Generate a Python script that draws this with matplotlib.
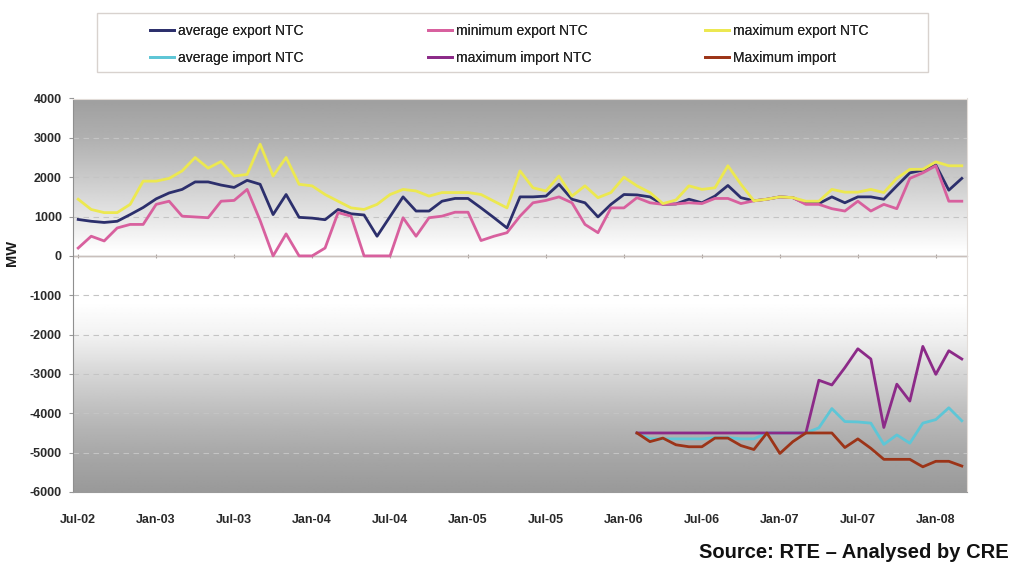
import numpy as np
import pandas as pd
import matplotlib
matplotlib.use("Agg")
import matplotlib.pyplot as plt
from matplotlib.patches import Rectangle

# ---- data (MW), monthly Jul-2002 .. Mar-2008 ----
months = pd.date_range("2002-07-01", periods=69, freq="MS")
tick_labels = ["Jul-02", "Jan-03", "Jul-03", "Jan-04", "Jul-04", "Jan-05",
               "Jul-05", "Jan-06", "Jul-06", "Jan-07", "Jul-07", "Jan-08"]

avg_export = [926, 880, 850, 880, 1050, 1230, 1450, 1600, 1690, 1880,
              1880, 1800, 1740, 1920, 1820, 1050, 1560, 980, 960, 920,
              1180, 1070, 1040, 500, 1000, 1500, 1140, 1140, 1390, 1460,
              1460, 1220, 970, 710, 1500, 1500, 1520, 1820, 1440, 1350,
              990, 1310, 1560, 1550, 1500, 1310, 1320, 1440, 1350, 1520,
              1790, 1480, 1400, 1440, 1500, 1480, 1330, 1330, 1500, 1350,
              1500, 1500, 1440, 1780, 2110, 2180, 2310, 1670, 1970]

min_export = [200, 500, 380, 710, 800, 800, 1310, 1390, 1010, 990,
              970, 1390, 1410, 1690, 900, 0, 560, 0, 0, 200,
              1100, 1010, 0, 0, 0, 970, 500, 970, 1010, 1110,
              1110, 390, 500, 590, 1010, 1350, 1410, 1500, 1350, 800,
              590, 1220, 1220, 1480, 1350, 1310, 1320, 1350, 1330, 1460,
              1460, 1330, 1400, 1440, 1500, 1480, 1310, 1310, 1200, 1140,
              1390, 1140, 1310, 1200, 1970, 2110, 2290, 1390, 1390]

max_export = [1440, 1180, 1100, 1100, 1310, 1900, 1900, 1970, 2160, 2500,
              2230, 2400, 2030, 2070, 2840, 2030, 2500, 1820, 1780, 1560,
              1390, 1220, 1180, 1310, 1560, 1690, 1650, 1520, 1610, 1610,
              1610, 1560, 1390, 1220, 2160, 1730, 1650, 2030, 1520, 1780,
              1480, 1610, 2000, 1780, 1610, 1330, 1420, 1780, 1690, 1730,
              2290, 1820, 1400, 1440, 1500, 1480, 1390, 1390, 1690, 1620,
              1620, 1690, 1610, 1970, 2200, 2200, 2390, 2290, 2290]

# import series are published from Jan-2006 onwards
import_start = 43
avg_import = [-4500, -4650, -4650, -4650, -4650, -4650, -4620, -4620, -4650, -4650,
              -4500, -4500, -4500, -4500, -4370, -3880, -4210, -4220, -4250, -4790,
              -4550, -4760, -4250, -4160, -3860, -4190]

max_import_ntc = [-4500, -4500, -4500, -4500, -4500, -4500, -4500, -4500, -4500, -4500,
                  -4500, -4500, -4500, -4500, -3160, -3280, -2840, -2360, -2620, -4360,
                  -3260, -3690, -2300, -3010, -2410, -2620]

max_import = [-4500, -4720, -4630, -4800, -4850, -4850, -4630, -4630, -4820, -4920,
              -4500, -5020, -4720, -4500, -4500, -4500, -4870, -4650, -4890, -5170,
              -5170, -5170, -5360, -5220, -5220, -5340]

series_names = ["average export NTC", "minimum export NTC", "maximum export NTC",
                "average import NTC", "maximum import NTC", "Maximum import"]
series_colors = ["#2c2f6c", "#d8609e", "#ece850", "#5ec6d6", "#8c2a88", "#9c3418"]

plt.rcParams["font.family"] = ["Liberation Sans", "DejaVu Sans"]

W, H = 1014, 567
fig = plt.figure(figsize=(W / 100, H / 100), dpi=100)
ax = fig.add_axes([73 / W, 1 - 492 / H, (967 - 73) / W, (492 - 98.5) / H])

x_all = np.arange(len(months))
x_imp = x_all[import_start:]

ymin, ymax = -6000, 4000
xmin, xmax = -0.4, 68.4

# vertical grey background gradient: dark at top and bottom, white around zero
stops = [(-6000, 0.60), (-5000, 0.66), (-4000, 0.74), (-3000, 0.84),
         (-2000, 0.95), (-1200, 1.0), (100, 1.0), (1000, 0.90),
         (2000, 0.79), (3000, 0.69), (4000, 0.62)]
vals = np.linspace(ymin, ymax, 400)
greys = np.interp(vals, [s[0] for s in stops], [s[1] for s in stops])
bg = np.repeat(greys[:, None], 2, axis=1)
ax.imshow(bg, cmap="gray", vmin=0, vmax=1, aspect="auto", origin="lower",
          extent=[xmin, xmax, ymin, ymax], interpolation="bilinear", zorder=0)

for v in range(-5000, 4000, 1000):
    if v == 0:
        continue
    ax.axhline(v, color="#c4c4c4", lw=0.8, ls=(0, (5, 4)), zorder=1)
ax.axhline(0, color="#c9c0bc", lw=1.0, zorder=1)

lw = 2.0
handles = []
handles += ax.plot(x_all, avg_export, color=series_colors[0], lw=lw, zorder=3)
handles += ax.plot(x_all, min_export, color=series_colors[1], lw=lw, zorder=3)
handles += ax.plot(x_all, max_export, color=series_colors[2], lw=lw, zorder=3)
handles += ax.plot(x_imp, avg_import, color=series_colors[3], lw=lw, zorder=3)
handles += ax.plot(x_imp, max_import_ntc, color=series_colors[4], lw=lw, zorder=3)
handles += ax.plot(x_imp, max_import, color=series_colors[5], lw=lw, zorder=3)

ax.set_xlim(xmin, xmax)
ax.set_ylim(ymin, ymax)
ax.set_yticks(range(-6000, 4001, 1000))
ax.set_yticklabels([str(v) for v in range(-6000, 4001, 1000)])
ax.set_xticks(x_all[::6])
ax.set_xticklabels(tick_labels)
ax.tick_params(axis="y", length=3, width=0.8, color="#999999", labelsize=9,
               pad=5, labelcolor="#2a2a2a")
ax.tick_params(axis="x", length=0, labelsize=9, pad=16, labelcolor="#2a2a2a")
for lab in ax.get_yticklabels() + ax.get_xticklabels():
    lab.set_fontweight("bold")

for side in ["top", "right"]:
    ax.spines[side].set_color("#e2dcd8")
ax.spines["left"].set_color("#8f8f8f")
ax.spines["bottom"].set_color("#9a9a9a")

# category tick marks on the zero line
sec = ax.secondary_xaxis(0.6)
sec.set_xticks(x_all[::6])
sec.set_xticklabels([])
sec.tick_params(length=3, direction="inout", color="#b0a8a4")
sec.spines["bottom"].set_visible(False)

ax.set_ylabel("MW", fontsize=10.5, fontweight="bold", color="#1a1a1a")
ax.yaxis.set_label_coords(-0.0604, 0.607)

# legend: framed box with three columns of two entries each
fig.patches.append(Rectangle((97 / W, 1 - 72 / H), 831 / W, 59 / H,
                             transform=fig.transFigure, fill=False,
                             edgecolor="#d8d2ce", lw=1.0))
col_x = [150, 428, 705]
for c in range(3):
    idx = [c, c + 3]
    lg = fig.legend([handles[i] for i in idx], [series_names[i] for i in idx],
                    loc="upper left", bbox_to_anchor=(col_x[c] / W, 1 - 24 / H),
                    frameon=False, fontsize=10, handlelength=1.7,
                    handletextpad=0.35, borderpad=0, labelspacing=0.95,
                    borderaxespad=0)
    for t in lg.get_texts():
        t.set_color("#222222")
    fig.add_artist(lg)

fig.text(1009 / W, 1 - 553 / H, "Source: RTE \u2013 Analysed by CRE",
         ha="right", va="center", fontsize=14.5, fontweight="bold",
         color="#111111")

fig.savefig("out.png", dpi=100)
